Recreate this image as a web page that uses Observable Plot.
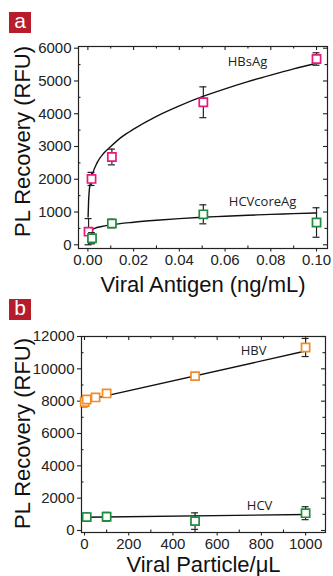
<!DOCTYPE html>
<html><head><meta charset="utf-8">
<script src="https://cdn.jsdelivr.net/npm/d3@7"></script>
<script src="https://cdn.jsdelivr.net/npm/@observablehq/plot@0.6"></script>
<style>
body{margin:0;background:#fff;}
#wrap{position:relative;width:333px;height:576px;overflow:hidden;background:#fff;}
.panel{position:absolute;left:0;width:333px;}
.panel svg{display:block;background:transparent;overflow:visible;}
.tag{position:absolute;left:9px;width:22px;height:21px;background:#b71c2c;color:#fff;font:21px "Liberation Sans",Arial,sans-serif;text-align:center;line-height:18px;z-index:5;}
</style></head>
<body>
<div id="wrap">
  <div class="panel" id="pa" style="top:0"></div>
  <div class="panel" id="pb" style="top:290px"></div>
  <div class="tag" style="top:12px">a</div>
  <div class="tag" style="top:299px">b</div>
</div>
<script>
// ---------- Panel a data ----------
const antigenTicks = [0, 0.02, 0.04, 0.06, 0.08, 0.10];
const antigenMinor = [0.01, 0.03, 0.05, 0.07, 0.09];
const rfuTicksA = [0, 1000, 2000, 3000, 4000, 5000, 6000];
const rfuMinorA = [500, 1500, 2500, 3500, 4500, 5500];

const hbsagConc = [0.0003, 0.0016, 0.0105, 0.0505, 0.1];
const hbsagMean = [400, 2010, 2680, 4350, 5670];
const hbsagErr  = [400, 200, 240, 470, 190];

const hcvcConc = [0.0018, 0.0105, 0.0505, 0.1];
const hcvcMean = [200, 650, 930, 680];
const hcvcErr  = [170, 130, 290, 450];

const hbsagFitX = [0.0001, 0.0003, 0.0006, 0.001, 0.002, 0.004, 0.007, 0.01, 0.015, 0.02, 0.03, 0.04, 0.05, 0.06, 0.07, 0.08, 0.09, 0.1];
const hbsagFitY = [850, 1300, 1650, 1850, 2150, 2500, 2800, 3000, 3300, 3530, 3920, 4240, 4520, 4760, 4980, 5180, 5370, 5540];
const hcvcFitX = [0.0002, 0.001, 0.003, 0.006, 0.01, 0.02, 0.03, 0.04, 0.05, 0.06, 0.07, 0.08, 0.09, 0.1];
const hcvcFitY = [350, 420, 500, 560, 610, 690, 750, 800, 840, 870, 900, 930, 950, 970];

// ---------- Panel b data ----------
const particleTicks = [0, 200, 400, 600, 800, 1000];
const particleMinor = [100, 300, 500, 700, 900];
const rfuTicksB = [0, 2000, 4000, 6000, 8000, 10000, 12000];
const rfuMinorB = [1000, 3000, 5000, 7000, 9000, 11000];

const hbvX = [1, 10, 50, 100, 500, 1000];
const hbvMean = [7950, 8100, 8230, 8480, 9550, 11320];
const hbvErr = [300, 150, 100, 100, 120, 560];
const hbvFitX = [0, 1000];
const hbvFitY = [8030, 11100];

const hcvX = [10, 100, 500, 1000];
const hcvMean = [830, 850, 580, 1070];
const hcvErr = [250, 270, 510, 400];
const hcvFitX = [0, 1000];
const hcvFitY = [820, 990];

const labels = [
  {panel: "a", text: "HBsAg", x: 0.0698, y: 5570},
  {panel: "a", text: "HCVcoreAg", x: 0.0764, y: 1300},
  {panel: "b", text: "HBV", x: 765, y: 11120},
  {panel: "b", text: "HCV", x: 792, y: 1540}
];

const MAGENTA = "#e8197d", GREEN = "#1f8c3f", ORANGE = "#f28c28", INK = "#222";
const SANS = '"Liberation Sans", Arial, sans-serif';
const W = 333;

const zip = (xs, ys, es) => xs.map((x, i) => ({x, y: ys[i], e: es ? es[i] : 0}));

function seriesMarks(pts, color) {
  return [
    Plot.ruleX(pts, {x: "x", y1: d => d.y - d.e, y2: d => d.y + d.e, stroke: INK, strokeWidth: 1.2}),
    Plot.ruleY(pts, {y: d => d.y + d.e, x1: "x", x2: "x", insetLeft: -3.5, insetRight: -3.5, stroke: INK, strokeWidth: 1.2}),
    Plot.ruleY(pts, {y: d => d.y - d.e, x1: "x", x2: "x", insetLeft: -3.5, insetRight: -3.5, stroke: INK, strokeWidth: 1.2}),
    Plot.dot(pts, {x: "x", y: "y", symbol: "square", r: 4.6, stroke: color, strokeWidth: 1.7, fill: "white"})
  ];
}

function panel(o) {
  const pw = W - o.ml - o.mr, ph = o.height - o.mt - o.mb;
  return Plot.plot({
    width: W, height: o.height,
    marginTop: o.mt, marginBottom: o.mb, marginLeft: o.ml, marginRight: o.mr,
    style: {fontFamily: SANS, fontSize: "15px", color: INK, background: "transparent", overflow: "visible"},
    x: {domain: o.xDomain},
    y: {domain: o.yDomain},
    marks: [
      // inward mirror ticks: top & right majors, minors on all sides
      Plot.tickX(o.xTicks, {x: d => d, insetBottom: ph - 4, stroke: INK, strokeWidth: 1.1}),
      Plot.tickX(o.xMinor, {x: d => d, insetBottom: ph - 2.5, stroke: INK, strokeWidth: 1.1}),
      Plot.tickX(o.xMinor, {x: d => d, insetTop: ph - 2.5, stroke: INK, strokeWidth: 1.1}),
      Plot.tickY(o.yTicks, {y: d => d, insetLeft: pw - 4, stroke: INK, strokeWidth: 1.1}),
      Plot.tickY(o.yMinor, {y: d => d, insetLeft: pw - 2.5, stroke: INK, strokeWidth: 1.1}),
      Plot.tickY(o.yMinor, {y: d => d, insetRight: pw - 2.5, stroke: INK, strokeWidth: 1.1}),
      Plot.axisX(o.xTicks, {tickSize: 3.5, tickPadding: 2, tickFormat: o.xFormat, label: null, fontSize: 15, strokeWidth: 1.1}),
      Plot.axisY(o.yTicks, {tickSize: 4, tickPadding: 3, tickFormat: d3.format("d"), label: null, fontSize: 15, strokeWidth: 1.1}),
      Plot.frame({stroke: INK, strokeWidth: 1.2}),
      ...o.marks,
      Plot.text(labels.filter(d => d.panel === o.id), {x: "x", y: "y", text: "text", fontFamily: '"Open Sans", sans-serif', fontSize: 13, fill: INK}),
      Plot.text([o.yLabel], {text: d => d, frameAnchor: "left", textAnchor: "middle", lineAnchor: "middle", rotate: -90, dx: o.yLabelDx, dy: o.yLabelDy, fontSize: 22, fontFamily: SANS, fill: "#111"}),
      Plot.text([o.xLabel], {text: d => d, frameAnchor: "bottom", textAnchor: "middle", lineAnchor: "bottom", dy: o.xLabelDy, fontSize: 22, fontFamily: SANS, fill: "#111"})
    ]
  });
}

const plotA = panel({
  id: "a", height: 300, mt: 46, mb: 52, ml: 78, mr: 6,
  xDomain: [-0.0041, 0.1048], yDomain: [-113, 6052],
  xTicks: antigenTicks, xMinor: antigenMinor, yTicks: rfuTicksA, yMinor: rfuMinorA,
  xFormat: d3.format(".2f"),
  yLabel: "PL Recovery (RFU)", yLabelDx: -56, yLabelDy: -6,
  xLabel: "Viral Antigen (ng/mL)", xLabelDy: 43,
  marks: [
    Plot.line(zip(hbsagFitX, hbsagFitY), {x: "x", y: "y", curve: "monotone-x", stroke: "#111", strokeWidth: 1.4}),
    Plot.line(zip(hcvcFitX, hcvcFitY), {x: "x", y: "y", curve: "monotone-x", stroke: "#111", strokeWidth: 1.4}),
    ...seriesMarks(zip(hbsagConc, hbsagMean, hbsagErr), MAGENTA),
    ...seriesMarks(zip(hcvcConc, hcvcMean, hcvcErr), GREEN)
  ]
});
document.getElementById("pa").append(plotA);

const plotB = panel({
  id: "b", height: 286, mt: 46, mb: 44, ml: 81, mr: 8,
  xDomain: [-13.6, 1090], yDomain: [-124, 12000],
  xTicks: particleTicks, xMinor: particleMinor, yTicks: rfuTicksB, yMinor: rfuMinorB,
  xFormat: d3.format("d"),
  yLabel: "PL Recovery (RFU)", yLabelDx: -59, yLabelDy: -1,
  xLabel: "Viral Particle/\u03BCL", xLabelDy: 39,
  marks: [
    Plot.line(zip(hbvFitX, hbvFitY), {x: "x", y: "y", stroke: "#111", strokeWidth: 1.4}),
    Plot.line(zip(hcvFitX, hcvFitY), {x: "x", y: "y", stroke: "#111", strokeWidth: 1.4}),
    ...seriesMarks(zip(hbvX, hbvMean, hbvErr), ORANGE),
    ...seriesMarks(zip(hcvX, hcvMean, hcvErr), GREEN)
  ]
});
document.getElementById("pb").append(plotB);
</script>
</body></html>
